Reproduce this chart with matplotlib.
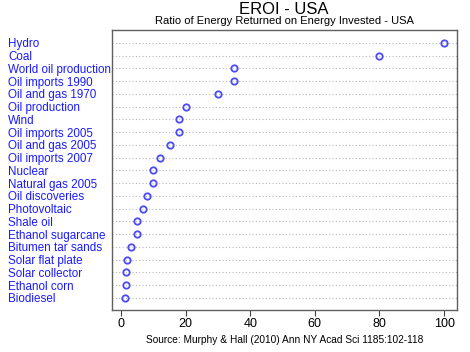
import numpy as np
import matplotlib.pyplot as plt

plt.rcParams['font.family'] = ['Liberation Sans', 'DejaVu Sans']

fuentes = ["Hydro", "Coal", "World oil production", "Oil imports 1990",
           "Oil and gas 1970", "Oil production", "Wind", "Oil imports 2005",
           "Oil and gas 2005", "Oil imports 2007", "Nuclear", "Natural gas 2005",
           "Oil discoveries", "Photovoltaic", "Shale oil", "Ethanol sugarcane",
           "Bitumen tar sands", "Solar flat plate", "Solar collector",
           "Ethanol corn", "Biodiesel"]
eroi = [100, 80, 35, 35, 30, 20, 18, 18, 15, 12, 10, 10, 8, 6.8, 5, 5, 3,
        1.9, 1.6, 1.4, 1.3]
xticks = [0, 20, 40, 60, 80, 100]

W, H = 470, 352
fig = plt.figure(figsize=(W/100, H/100), dpi=100)
ax = fig.add_axes([112/W, 1-310/H, (457-112)/W, (310-30)/H])

# lineas punteadas por fila
pos = np.arange(len(fuentes))
for p in pos:
    ax.axhline(p, color='#b8b8b8', lw=0.8, ls=(0, (1, 2)), zorder=1)
ax.plot(eroi, pos, 'o', ms=4.6, mfc='none', mec='#4a4aff', mew=1.3, zorder=3)

ax.set_ylim(len(fuentes) - 0.05, -1.0)
ax.set_xlim(-2.8, 104)
ax.set_xticks(xticks)
ax.tick_params(axis='x', length=4, width=0.8, color='#404040', labelsize=9, pad=2)
ax.set_yticks(pos)
ax.set_yticklabels(fuentes, color='#1a1aff', fontsize=8.4, ha='left')
ax.tick_params(axis='y', length=0, pad=(112-8)*0.72)
for s in ax.spines.values():
    s.set_color('#606060')
    s.set_linewidth(1.0)

fig.text(284/W, 1-10/H, "EROI - USA", ha='center', va='center', fontsize=12)
fig.text(284/W, 1-21/H, "Ratio of Energy Returned on Energy Invested - USA",
         ha='center', va='center', fontsize=8)
fig.text(285/W, 1-340/H, "Source: Murphy & Hall (2010) Ann NY Acad Sci 1185:102-118",
         ha='center', va='center', fontsize=7.3)

fig.savefig('out.png', dpi=100)
